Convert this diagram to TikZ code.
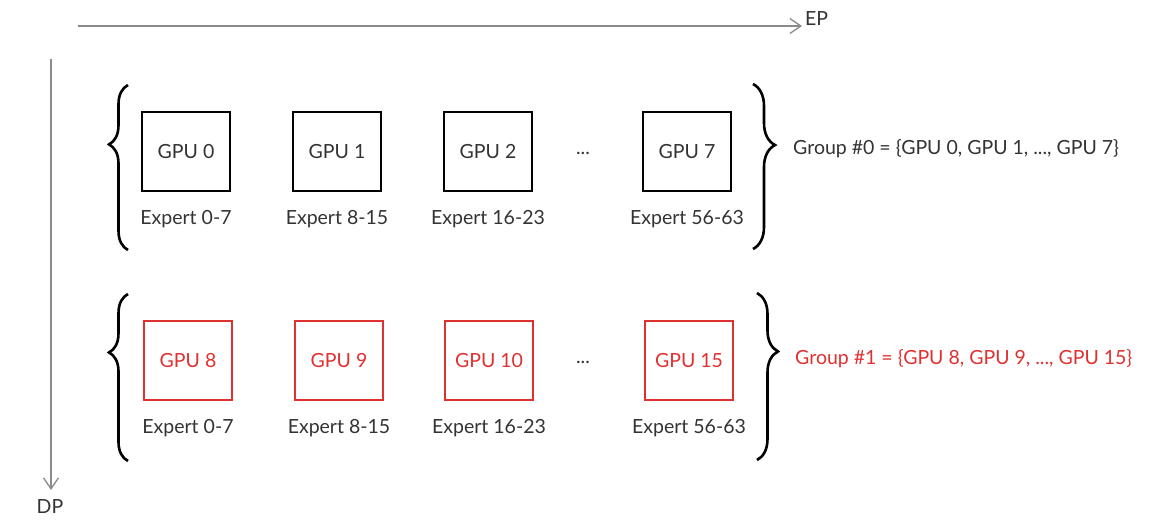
\documentclass[tikz,border=0pt]{standalone}
\usepackage{fontspec}
\setmainfont{Lato}
\usetikzlibrary{arrows.meta,decorations.pathreplacing,positioning}
\definecolor{txt}{HTML}{333333}
\definecolor{gred}{HTML}{E03131}
\definecolor{axisgray}{HTML}{8A8A8A}
\tikzset{
  gpubox/.style={draw=black,line width=2pt,minimum width=88pt,minimum height=79pt,
    inner sep=0pt,text=txt,font=\fontsize{19.5}{22}\selectfont},
  redbox/.style={gpubox,draw=gred,text=gred},
  explabel/.style={inner sep=0pt,text=txt,font=\fontsize{19.5}{22}\selectfont},
  axis/.style={draw=axisgray,line width=1.3pt,-{Straight Barb[length=11pt,width=15pt]}},
  curly/.style={draw=black,line width=2.6pt,decorate},
}
\begin{document}
\begin{tikzpicture}[x=1pt,y=-1pt]
    \useasboundingbox (0,0) rectangle (1165,528);
    % axes
    \coordinate (epstart) at (78,26);
    \coordinate (epend) at (802,26);
    \coordinate (dpstart) at (51,59);
    \coordinate (dpend) at (51,490);
    \node[explabel,anchor=base west] (ep) at (805,25) {EP};
    \node[explabel,anchor=north] (dp) at (50,499) {DP};
    \draw[axis] (epstart) -- (epend);
    \draw[axis] (dpstart) -- (dpend);
    % group 0
    \node[gpubox] (g0) at (186,151.5) {GPU 0};
    \node[gpubox] (g1) at (337,151.5) {GPU 1};
    \node[gpubox] (g2) at (488,151.5) {GPU 2};
    \node[explabel,anchor=base] (d0) at (583,154) {...};
    \node[gpubox] (g7) at (687,151.5) {GPU 7};
    \node[explabel,below=18pt of g0] (e0) {Expert 0-7};
    \node[explabel,below=18pt of g1] (e1) {Expert 8-15};
    \node[explabel,below=18pt of g2] (e2) {Expert 16-23};
    \node[explabel,below=18pt of g7] (e7) {Expert 56-63};
    \node[explabel,anchor=base west] (grp0) at (793,154) {Group \#0 = \{GPU 0, GPU 1, ..., GPU 7\}};
    % group 1
    \node[redbox] (g8) at (188,360.5) {GPU 8};
    \node[redbox] (g9) at (339,360.5) {GPU 9};
    \node[redbox] (g10) at (489,360.5) {GPU 10};
    \node[explabel,anchor=base] (d1) at (583,363.5) {...};
    \node[redbox] (g15) at (689,360.5) {GPU 15};
    \node[explabel,below=18pt of g8] (e8) {Expert 0-7};
    \node[explabel,below=18pt of g9] (e9) {Expert 8-15};
    \node[explabel,below=18pt of g10] (e10) {Expert 16-23};
    \node[explabel,below=18pt of g15] (e15) {Expert 56-63};
    \node[explabel,anchor=base west,text=gred] (grp1) at (795,364) {Group \#1 = \{GPU 8, GPU 9, ..., GPU 15\}};
    % braces
    \draw[curly,decoration={brace,amplitude=19pt,aspect=0.64}] (128,250) -- (128,85);
    \draw[curly,decoration={brace,amplitude=22pt,aspect=0.37}] (753,84) -- (753,249);
    \draw[curly,decoration={brace,amplitude=19pt,aspect=0.65}] (128,461) -- (128,294);
    \draw[curly,decoration={brace,amplitude=21pt,aspect=0.35}] (757,293) -- (757,460);
\end{tikzpicture}
\end{document}
